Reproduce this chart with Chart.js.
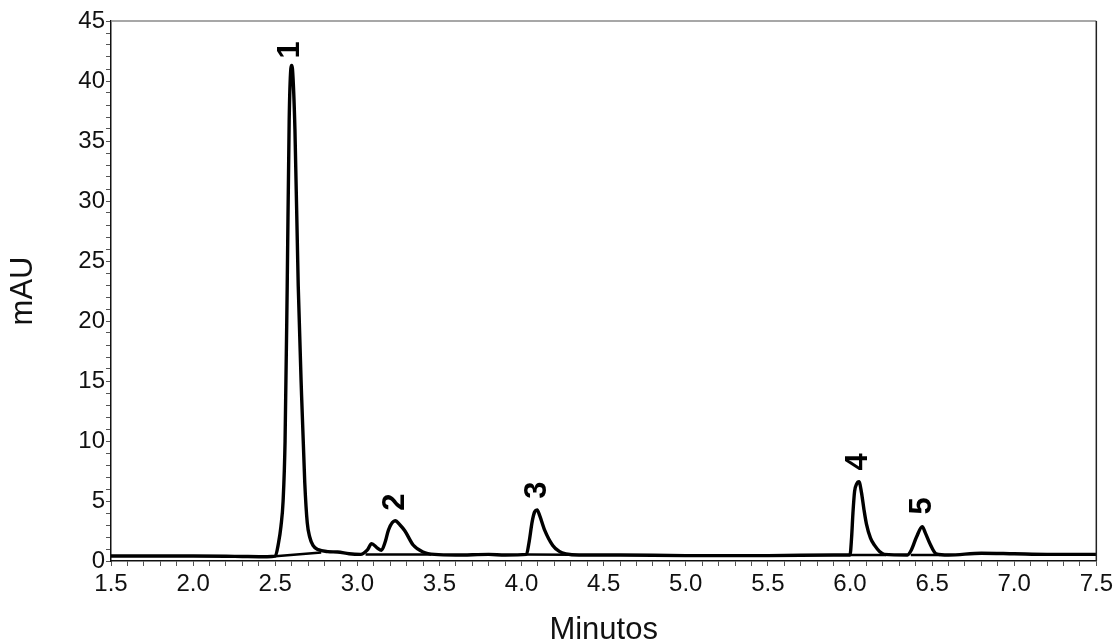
<!DOCTYPE html>
<html>
<head>
<meta charset="utf-8">
<script src="https://cdn.jsdelivr.net/npm/chart.js@4/dist/chart.umd.min.js"></script>
<style>
  body { margin: 0; background: #fff; }
  #wrap { width: 1117px; height: 643px; }
</style>
</head>
<body>
<div id="wrap"><canvas id="chrom" width="1117" height="643"></canvas></div>
<script>
// señal del cromatograma (minutos, mAU)
const times = [1.50, 1.80, 2.00, 2.20, 2.30, 2.45, 2.50, 2.52, 2.535, 2.548, 2.56, 2.573, 2.585, 2.595, 2.600, 2.605,
  2.62, 2.64, 2.66, 2.68, 2.695, 2.71, 2.73, 2.76, 2.82, 2.88, 2.95, 3.02, 3.06, 3.087, 3.12, 3.147, 3.17, 3.19,
  3.23, 3.26, 3.29, 3.34, 3.40, 3.47, 3.60, 3.80, 3.90, 4.03, 4.045, 4.065, 4.08, 4.095, 4.11, 4.14, 4.19, 4.23,
  4.27, 4.35, 4.60, 5.00, 5.50, 5.90, 6.00, 6.01, 6.018, 6.028, 6.04, 6.055, 6.07, 6.085, 6.10, 6.125, 6.15, 6.18,
  6.21, 6.35, 6.373, 6.405, 6.44, 6.46, 6.485, 6.525, 6.60, 6.80, 7.00, 7.20, 7.50];
const mAU = [0.42, 0.42, 0.42, 0.40, 0.38, 0.36, 0.40, 1.5, 2.9, 5.0, 10, 22.9, 36.7, 41.0, 41.3, 41.0,
  36.0, 23.0, 14.0, 6.5, 3.2, 2.0, 1.3, 0.95, 0.78, 0.75, 0.6, 0.55, 0.9, 1.45, 1.1, 0.9, 1.6, 2.6,
  3.35, 3.0, 2.5, 1.33, 0.75, 0.55, 0.5, 0.55, 0.5, 0.55, 1.5, 3.3, 4.1, 4.25, 3.8, 2.6, 1.3, 0.8,
  0.6, 0.5, 0.5, 0.45, 0.45, 0.5, 0.5, 2.0, 4.0, 5.8, 6.4, 6.6, 5.7, 4.3, 3.1, 1.9, 1.3, 0.8,
  0.55, 0.5, 0.9, 2.0, 2.85, 2.3, 1.5, 0.6, 0.5, 0.65, 0.6, 0.55, 0.55];

// líneas base de integración bajo los picos (null = corte)
const baseTimes = [2.50, 2.78, 2.781, 3.05, 3.45, 3.451, 4.03, 4.30, 4.301, 6.00, 6.22, 6.221, 6.37, 6.55];
const baseValues = [0.40, 0.70, null, 0.55, 0.55, null, 0.55, 0.52, null, 0.5, 0.5, null, 0.5, 0.5];

// etiquetas de los picos
const peakLabels = ['1', '2', '3', '4', '5'];
const peakLabelTimes = [2.595, 3.235, 4.096, 6.053, 6.44];
const peakLabelValues = [42.6, 4.9, 5.9, 8.25, 4.6];

const FONT = "'Liberation Sans', Arial, sans-serif";

const peakLabelPlugin = {
  id: 'peakLabels',
  afterDatasetsDraw(chart) {
    const ctx = chart.ctx;
    const xs = chart.scales.x, ys = chart.scales.y;
    ctx.save();
    ctx.fillStyle = '#000';
    ctx.font = 'bold 31px ' + FONT;
    ctx.textAlign = 'center';
    ctx.textBaseline = 'middle';
    peakLabels.forEach((lab, i) => {
      ctx.save();
      ctx.translate(xs.getPixelForValue(peakLabelTimes[i]), ys.getPixelForValue(peakLabelValues[i]));
      ctx.rotate(-Math.PI / 2);
      ctx.fillText(lab, 0, 0);
      ctx.restore();
    });
    // marco superior y derecho
    const a = chart.chartArea;
    ctx.lineWidth = 1.5;
    ctx.strokeStyle = '#8a8a8a';
    ctx.beginPath(); ctx.moveTo(a.left, a.top); ctx.lineTo(a.right, a.top); ctx.stroke();
    ctx.strokeStyle = '#222';
    ctx.beginPath(); ctx.moveTo(a.right, a.top); ctx.lineTo(a.right, a.bottom); ctx.stroke();
    ctx.restore();
  }
};

const isMult = (v, m) => Math.abs(v / m - Math.round(v / m)) < 1e-6;

new Chart(document.getElementById('chrom'), {
  type: 'line',
  data: {
    datasets: [{
      data: times.map((t, i) => ({ x: t, y: mAU[i] })),
      borderColor: '#000',
      borderWidth: 3.4,
      pointRadius: 0,
      cubicInterpolationMode: 'monotone',
      fill: false
    }, {
      data: baseTimes.map((t, i) => ({ x: t, y: baseValues[i] })),
      borderColor: '#000',
      borderWidth: 2.5,
      pointRadius: 0,
      spanGaps: false,
      fill: false
    }]
  },
  options: {
    responsive: false,
    animation: false,
    layout: { padding: { top: 21, right: 20, left: 0, bottom: 0 } },
    plugins: { legend: { display: false }, tooltip: { enabled: false } },
    scales: {
      x: {
        type: 'linear',
        min: 1.5, max: 7.5,
        afterFit: (s) => { s.height = 82; },
        border: { color: '#111', width: 1.5 },
        grid: { drawOnChartArea: false, tickLength: 5, tickColor: '#555' },
        ticks: {
          stepSize: 0.1, autoSkip: false, maxTicksLimit: 100, maxRotation: 0,
          color: '#111', padding: 4,
          font: { family: FONT, size: 24 },
          callback: (v) => isMult(v, 0.5) ? v.toFixed(1) : ''
        },
        title: {
          display: true, text: 'Minutos', color: '#111',
          font: { family: FONT, size: 31, lineHeight: 0.8 },
          padding: { top: 0, bottom: 0 }
        }
      },
      y: {
        min: 0, max: 45,
        afterFit: (s) => { s.width = 111; },
        border: { color: '#111', width: 1.5 },
        grid: { drawOnChartArea: false, tickLength: 5, tickColor: '#555' },
        ticks: {
          stepSize: 1, autoSkip: false, maxTicksLimit: 100,
          color: '#111', padding: 1,
          font: { family: FONT, size: 24 },
          callback: (v) => isMult(v, 5) ? String(v) : ''
        },
        title: {
          display: true, text: 'mAU', color: '#111',
          font: { family: FONT, size: 31 },
          padding: { top: 5, bottom: 0 }
        }
      }
    }
  },
  plugins: [peakLabelPlugin]
});
</script>
</body>
</html>
